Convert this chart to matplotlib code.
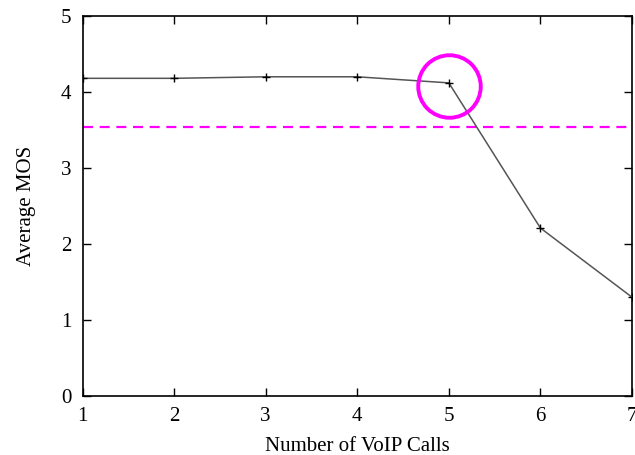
import matplotlib
matplotlib.use("Agg")
import matplotlib.pyplot as plt

# data
calls = [1, 2, 3, 4, 5, 6, 7]
avg_mos = [4.18, 4.18, 4.20, 4.20, 4.12, 2.21, 1.30]
threshold = 3.54
highlight_x = 5
highlight_y = 4.08

plt.rcParams["font.family"] = ["Liberation Serif", "DejaVu Serif"]

fig = plt.figure(figsize=(6.35, 4.55), dpi=100)
ax = fig.add_axes([82.5 / 635, (455 - 396) / 455, (632 - 82.5) / 635, (396 - 16) / 455])

ax.plot(calls, avg_mos, color="#555555", lw=1.1, marker="+", ms=6,
        mec="black", mew=1.0, zorder=3)
ax.axhline(threshold, color="#ff00ff", lw=1.6, ls=(0, (4.5, 3)), zorder=2)
ax.plot([highlight_x], [highlight_y], marker="o", ms=45, mfc="none",
        mec="#ff00ff", mew=2.8, zorder=4)

ax.set_xlim(1, 7)
ax.set_ylim(0, 5)
ax.set_xticks(calls)
ax.set_yticks([0, 1, 2, 3, 4, 5])
ax.tick_params(direction="in", top=True, right=True, length=6, width=1,
               labelsize=15, pad=8)
for s in ax.spines.values():
    s.set_linewidth(1.2)

ax.set_xlabel("Number of VoIP Calls", fontsize=15, labelpad=8)
ax.set_ylabel("Average MOS", fontsize=15, labelpad=18)

fig.savefig("out.png", dpi=100)
